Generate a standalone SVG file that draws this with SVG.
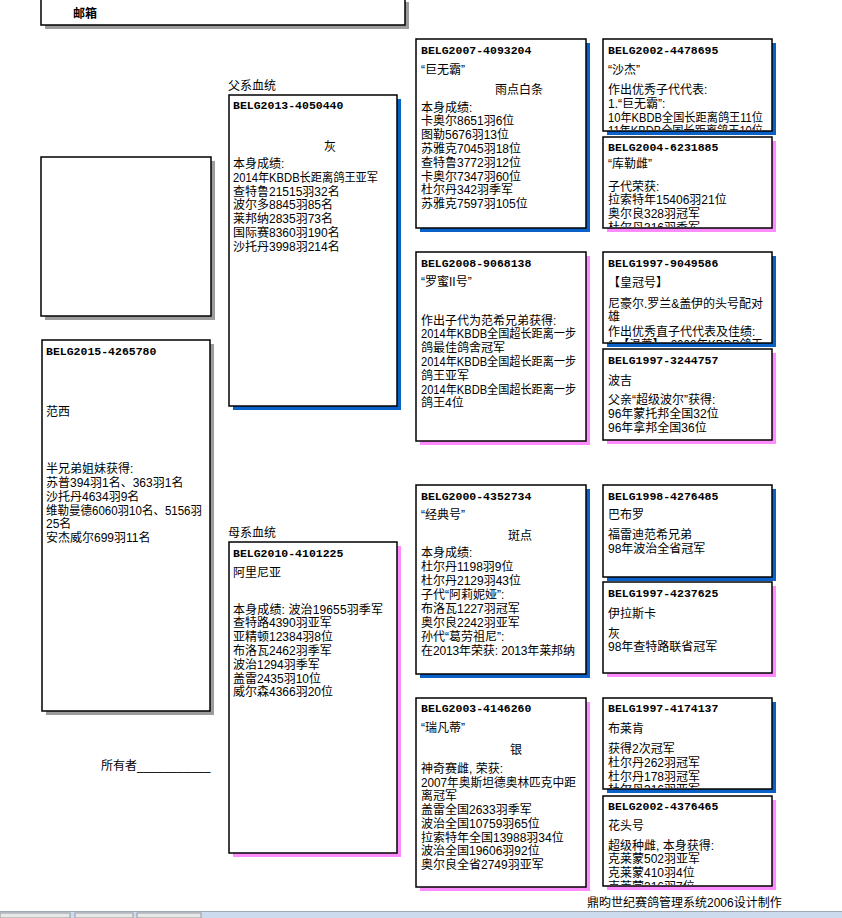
<svg xmlns="http://www.w3.org/2000/svg" width="842" height="918" viewBox="0 0 842 918">
<style>
.bx{fill:#fff;stroke:#000;stroke-width:1.5}
.sb{fill:#0a62c8}
.sp{fill:#ff8cff}
.sg{fill:#9c9c9c}
text{font-family:"Liberation Sans","Noto Sans CJK SC",sans-serif;font-size:12px;fill:#000}
.h{font-family:"Liberation Mono","DejaVu Sans Mono",monospace;font-weight:bold;font-size:11.5px}
</style>
<defs>
<clipPath id="c1"><rect x="604" y="40" width="167" height="90"/></clipPath>
<clipPath id="c2"><rect x="604" y="138" width="167" height="89"/></clipPath>
<clipPath id="c3"><rect x="604" y="253" width="167" height="89"/></clipPath>
<clipPath id="c7"><rect x="604" y="699" width="167" height="89"/></clipPath>
<clipPath id="c8"><rect x="604" y="797" width="167" height="88"/></clipPath>
</defs>
<rect width="842" height="918" fill="#fff"/>

<g id="mailbox">
<rect class="sg" x="45" y="2" width="364" height="27"/>
<rect class="bx" x="41" y="-2" width="364" height="27"/>
<text x="73" y="18" font-weight="bold" font-size="13">邮箱</text>
</g>

<text x="228" y="89.5">父系血统</text>
<text x="228" y="536.5">母系血统</text>
<text x="101" y="769.5">所有者___________</text>

<g id="photo">
<rect class="sg" x="45" y="161" width="170" height="159"/>
<rect class="bx" x="41" y="157" width="170" height="159"/>
</g>

<g id="n-self">
<rect class="sg" x="46" y="344" width="168" height="371"/>
<rect class="bx" x="42" y="340" width="168" height="371"/>
<text class="h" x="46" y="354.5">BELG2015-4265780</text>
<text x="46" y="415.5">范西</text>
<text x="46" y="472.5">半兄弟姐妹获得:</text>
<text x="46" y="486.5">苏普394羽1名、363羽1名</text>
<text x="46" y="500.5">沙托丹4634羽9名</text>
<text x="46" y="514.5" textLength="156" lengthAdjust="spacingAndGlyphs">维勒曼德6060羽10名、5156羽</text>
<text x="46" y="528">25名</text>
<text x="46" y="542">安杰威尔699羽11名</text>
</g>

<g id="n-sire">
<rect class="sb" x="233" y="99" width="168" height="311"/>
<rect class="bx" x="229" y="95" width="168" height="311"/>
<text class="h" x="233" y="109">BELG2013-4050440</text>
<text x="324" y="151">灰</text>
<text x="233" y="168">本身成绩:</text>
<text x="233" y="181.8" textLength="145" lengthAdjust="spacingAndGlyphs">2014年KBDB长距离鸽王亚军</text>
<text x="233" y="195.6">查特鲁21515羽32名</text>
<text x="233" y="209.4">波尔多8845羽85名</text>
<text x="233" y="223.2">莱邦纳2835羽73名</text>
<text x="233" y="237">国际赛8360羽190名</text>
<text x="233" y="250.8">沙托丹3998羽214名</text>
</g>

<g id="n-dam">
<rect class="sp" x="233" y="546" width="168" height="311"/>
<rect class="bx" x="229" y="542" width="168" height="311"/>
<text class="h" x="233" y="556.5">BELG2010-4101225</text>
<text x="233" y="576.5">阿里尼亚</text>
<text x="233" y="613.5" textLength="150">本身成绩: 波治19655羽季军</text>
<text x="233" y="627.3">查特路4390羽亚军</text>
<text x="233" y="641.1">亚精顿12384羽8位</text>
<text x="233" y="654.9">布洛瓦2462羽季军</text>
<text x="233" y="668.7">波治1294羽季军</text>
<text x="233" y="682.5">盖雷2435羽10位</text>
<text x="233" y="696.3">威尔森4366羽20位</text>
</g>

<g id="n-ss">
<rect class="sb" x="420" y="43" width="170" height="189"/>
<rect class="bx" x="416" y="39" width="170" height="189"/>
<text class="h" x="421" y="53.5">BELG2007-4093204</text>
<text x="421" y="73.5">“巨无霸”</text>
<text x="495" y="93.5">雨点白条</text>
<text x="421" y="111.5">本身成绩:</text>
<text x="421" y="125.3">卡奥尔8651羽6位</text>
<text x="421" y="139.1">图勒5676羽13位</text>
<text x="421" y="152.9">苏雅克7045羽18位</text>
<text x="421" y="166.7">查特鲁3772羽12位</text>
<text x="421" y="180.5">卡奥尔7347羽60位</text>
<text x="421" y="194.3">杜尔丹342羽季军</text>
<text x="421" y="208.1">苏雅克7597羽105位</text>
</g>

<g id="n-sd">
<rect class="sp" x="420" y="256" width="170" height="189"/>
<rect class="bx" x="416" y="252" width="170" height="189"/>
<text class="h" x="421" y="266.5">BELG2008-9068138</text>
<text x="421" y="285.5">“罗蜜II号”</text>
<text x="421" y="324.5">作出子代为范希兄弟获得:</text>
<text x="421" y="338.3" textLength="155" lengthAdjust="spacingAndGlyphs">2014年KBDB全国超长距离一步</text>
<text x="421" y="352.1">鸽最佳鸽舍冠军</text>
<text x="421" y="365.9" textLength="155" lengthAdjust="spacingAndGlyphs">2014年KBDB全国超长距离一步</text>
<text x="421" y="379.7">鸽王亚军</text>
<text x="421" y="393.5" textLength="155" lengthAdjust="spacingAndGlyphs">2014年KBDB全国超长距离一步</text>
<text x="421" y="407.3">鸽王4位</text>
</g>

<g id="n-ds">
<rect class="sb" x="420" y="489" width="170" height="189"/>
<rect class="bx" x="416" y="485" width="170" height="189"/>
<text class="h" x="421" y="499.5">BELG2000-4352734</text>
<text x="421" y="518.5">“经典号”</text>
<text x="508" y="539.5">斑点</text>
<text x="421" y="556.5">本身成绩:</text>
<text x="421" y="570.6">杜尔丹1198羽9位</text>
<text x="421" y="584.7">杜尔丹2129羽43位</text>
<text x="421" y="598.8">子代“阿莉妮娅”:</text>
<text x="421" y="612.9">布洛瓦1227羽冠军</text>
<text x="421" y="627">奥尔良2242羽亚军</text>
<text x="421" y="641.1">孙代“葛劳祖尼”:</text>
<text x="421" y="655.2" textLength="154">在2013年荣获: 2013年莱邦纳</text>
</g>

<g id="n-dd">
<rect class="sp" x="420" y="702" width="170" height="189"/>
<rect class="bx" x="416" y="698" width="170" height="189"/>
<text class="h" x="421" y="711.5">BELG2003-4146260</text>
<text x="421" y="731.5">“瑞凡蒂”</text>
<text x="510" y="753.5">银</text>
<text x="421" y="773">神奇赛雌, 荣获:</text>
<text x="421" y="786.7" textLength="155" lengthAdjust="spacingAndGlyphs">2007年奥斯坦德奥林匹克中距</text>
<text x="421" y="800.4">离冠军</text>
<text x="421" y="814.1">盖雷全国2633羽季军</text>
<text x="421" y="827.8">波治全国10759羽65位</text>
<text x="421" y="841.5">拉索特年全国13988羽34位</text>
<text x="421" y="855.2">波治全国19606羽92位</text>
<text x="421" y="868.9">奥尔良全省2749羽亚军</text>
</g>

<g id="n-sss">
<rect class="sb" x="607" y="43" width="169" height="92"/>
<rect class="bx" x="603" y="39" width="169" height="92"/>
<g clip-path="url(#c1)">
<text class="h" x="608" y="53.5">BELG2002-4478695</text>
<text x="608" y="73.5">“沙杰”</text>
<text x="608" y="93.5">作出优秀子代代表:</text>
<text x="608" y="107.5">1.“巨无霸”:</text>
<text x="608" y="121.5" textLength="155" lengthAdjust="spacingAndGlyphs">10年KBDB全国长距离鸽王11位</text>
<text x="608" y="135.3" textLength="155" lengthAdjust="spacingAndGlyphs">11年KBDB全国长距离鸽王10位</text>
</g>
</g>

<g id="n-ssd">
<rect class="sp" x="607" y="141" width="169" height="91"/>
<rect class="bx" x="603" y="137" width="169" height="91"/>
<g clip-path="url(#c2)">
<text class="h" x="608" y="150.5">BELG2004-6231885</text>
<text x="608" y="167.5">“库勒雌”</text>
<text x="608" y="191">子代荣获:</text>
<text x="608" y="204">拉索特年15406羽21位</text>
<text x="608" y="218">奥尔良328羽冠军</text>
<text x="608" y="231.8">杜尔丹316羽季军</text>
</g>
</g>

<g id="n-sds">
<rect class="sb" x="607" y="256" width="169" height="91"/>
<rect class="bx" x="603" y="252" width="169" height="91"/>
<g clip-path="url(#c3)">
<text class="h" x="608" y="266.5">BELG1997-9049586</text>
<text x="608" y="286.5">【皇冠号】</text>
<text x="608" y="307.5" textLength="155">尼豪尔.罗兰&amp;盖伊的头号配对</text>
<text x="608" y="320.5">雄</text>
<text x="608" y="335.5">作出优秀直子代代表及佳绩:</text>
<text x="608" y="349.3" textLength="155" lengthAdjust="spacingAndGlyphs">1.【温蒂】: 2002年KBDB鸽王</text>
</g>
</g>

<g id="n-sdd">
<rect class="sp" x="607" y="353" width="169" height="91"/>
<rect class="bx" x="603" y="349" width="169" height="91"/>
<text class="h" x="608" y="363.5">BELG1997-3244757</text>
<text x="608" y="384.5">波吉</text>
<text x="608" y="403.5">父亲“超级波尔”获得:</text>
<text x="608" y="417.5">96年蒙托邦全国32位</text>
<text x="608" y="431.5">96年拿邦全国36位</text>
</g>

<g id="n-dss">
<rect class="sb" x="607" y="489" width="169" height="92"/>
<rect class="bx" x="603" y="485" width="169" height="92"/>
<text class="h" x="608" y="499.5">BELG1998-4276485</text>
<text x="608" y="518.5">巴布罗</text>
<text x="608" y="538.5">福雷迪范希兄弟</text>
<text x="608" y="552.5">98年波治全省冠军</text>
</g>

<g id="n-dsd">
<rect class="sp" x="607" y="586" width="169" height="91"/>
<rect class="bx" x="603" y="582" width="169" height="91"/>
<text class="h" x="608" y="596.5">BELG1997-4237625</text>
<text x="608" y="617.5">伊拉斯卡</text>
<text x="608" y="637.5">灰</text>
<text x="608" y="650.5">98年查特路联省冠军</text>
</g>

<g id="n-dds">
<rect class="sb" x="607" y="702" width="169" height="91"/>
<rect class="bx" x="603" y="698" width="169" height="91"/>
<g clip-path="url(#c7)">
<text class="h" x="608" y="711.5">BELG1997-4174137</text>
<text x="608" y="732.5">布莱肯</text>
<text x="608" y="752.5">获得2次冠军</text>
<text x="608" y="766.5">杜尔丹262羽冠军</text>
<text x="608" y="780.5">杜尔丹178羽冠军</text>
<text x="608" y="794.3">杜尔丹316羽亚军</text>
</g>
</g>

<g id="n-ddd">
<rect class="sp" x="607" y="800" width="169" height="90"/>
<rect class="bx" x="603" y="796" width="169" height="90"/>
<g clip-path="url(#c8)">
<text class="h" x="608" y="809.5">BELG2002-4376465</text>
<text x="608" y="829.5">花头号</text>
<text x="608" y="849.5">超级种雌, 本身获得:</text>
<text x="608" y="863">克莱蒙502羽亚军</text>
<text x="608" y="877">克莱蒙410羽4位</text>
<text x="608" y="890.8">克莱蒙316羽7位</text>
</g>
</g>

<g id="connectors"></g>

<text x="587" y="906.5">鼎昀世纪赛鸽管理系统2006设计制作</text>

<g id="bottombar">
<rect x="0" y="911" width="842" height="7" fill="#cddbef"/>
<line x1="0" y1="911.5" x2="842" y2="911.5" stroke="#a0a8b4" stroke-width="1"/>
<rect x="0" y="913" width="70" height="5" fill="#e8e8e8" stroke="#9a9a9a" stroke-width="1"/>
<rect x="75" y="913" width="58" height="5" fill="#e8e8e8" stroke="#9a9a9a" stroke-width="1"/>
<rect x="137" y="913" width="64" height="5" fill="#e8e8e8" stroke="#9a9a9a" stroke-width="1"/>
</g>
</svg>
